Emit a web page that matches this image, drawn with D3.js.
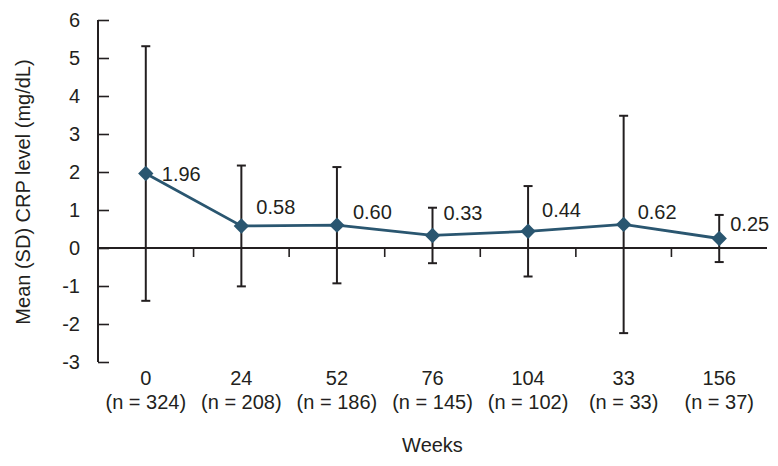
<!DOCTYPE html>
<html>
<head>
<meta charset="utf-8">
<script src="https://cdn.jsdelivr.net/npm/d3@7"></script>
<style>
  html, body { margin: 0; padding: 0; background: #fff; }
  svg { display: block; }
  text { font-family: "Liberation Sans", Arial, sans-serif; fill: #231f20; }
</style>
</head>
<body>
<svg id="chart" width="778" height="466"></svg>
<script>
const weeks = ["0", "24", "52", "76", "104", "33", "156"];
const nLabels = ["(n = 324)", "(n = 208)", "(n = 186)", "(n = 145)", "(n = 102)", "(n = 33)", "(n = 37)"];
const means = [1.96, 0.58, 0.60, 0.33, 0.44, 0.62, 0.25];
const sds = [3.35, 1.59, 1.53, 0.73, 1.19, 2.86, 0.62];
const meanLabels = ["1.96", "0.58", "0.60", "0.33", "0.44", "0.62", "0.25"];
const yTicks = [-3, -2, -1, 0, 1, 2, 3, 4, 5, 6];
// label placement offsets (pixels) relative to each marker
const labelDx = [16, 15, 16, 11, 14, 14, 11];
const labelDy = [0, -19, -13.5, -22.5, -21, -12, -14.5];

const svg = d3.select("#chart");
const mLeft = 98, mRight = 767, mTop = 20, mBottom = 362;
const ink = "#231f20";
const lineColor = "#2a5670";
const fontFam = "'Liberation Sans', Arial, sans-serif";

const x = d3.scaleBand().domain(weeks.map((w, i) => i)).range([mLeft, mRight]).padding(0);
const y = d3.scaleLinear().domain([-3, 6]).range([mBottom, mTop]);

// y axis
const yAxis = svg.append("g").attr("transform", `translate(${mLeft},0)`)
  .call(d3.axisLeft(y).tickValues(yTicks).tickSize(-11).tickPadding(18).tickFormat(d3.format("d")));
yAxis.select(".domain").attr("stroke", ink).attr("stroke-width", 2).attr("d", `M0,${y(-3)}V${y(6)}`);
yAxis.selectAll(".tick line").attr("stroke", ink).attr("stroke-width", 1.6);
yAxis.selectAll(".tick text").attr("font-size", 20).attr("fill", ink)
  .attr("font-family", fontFam)
  .text(d => d < 0 ? "-" + Math.abs(d) : d);

// x axis at y=0
const x0 = y(0);
svg.append("line").attr("x1", mLeft).attr("x2", mRight).attr("y1", x0).attr("y2", x0)
  .attr("stroke", ink).attr("stroke-width", 2);
svg.append("g").selectAll("line").data(weeks.slice(1)).join("line")
  .attr("x1", (d, i) => x(i + 1)).attr("x2", (d, i) => x(i + 1))
  .attr("y1", x0).attr("y2", x0 + 9)
  .attr("stroke", ink).attr("stroke-width", 1.6);

// category labels
const cx = i => x(i) + x.bandwidth() / 2;
svg.append("g").selectAll("text").data(weeks).join("text")
  .attr("x", (d, i) => cx(i)).attr("y", 385).attr("text-anchor", "middle")
  .attr("font-size", 20).text(d => d);
svg.append("g").selectAll("text").data(nLabels).join("text")
  .attr("x", (d, i) => cx(i)).attr("y", 409).attr("text-anchor", "middle")
  .attr("font-size", 20).text(d => d);

// axis titles
svg.append("text").attr("x", (mLeft + mRight) / 2).attr("y", 452).attr("text-anchor", "middle")
  .attr("font-size", 20).text("Weeks");
svg.append("text").attr("transform", `translate(30,192) rotate(-90)`).attr("text-anchor", "middle")
  .attr("font-size", 20).text("Mean (SD) CRP level (mg/dL)");

// error bars
const eb = svg.append("g").attr("stroke", ink).attr("stroke-width", 2);
means.forEach((m, i) => {
  const hi = y(m + sds[i]), lo = y(m - sds[i]), c = cx(i);
  eb.append("line").attr("x1", c).attr("x2", c).attr("y1", hi).attr("y2", lo);
  eb.append("line").attr("x1", c - 4.5).attr("x2", c + 4.5).attr("y1", hi).attr("y2", hi);
  eb.append("line").attr("x1", c - 4.5).attr("x2", c + 4.5).attr("y1", lo).attr("y2", lo);
});

// line
svg.append("path").datum(means)
  .attr("fill", "none").attr("stroke", lineColor).attr("stroke-width", 2.8)
  .attr("d", d3.line().x((d, i) => cx(i)).y(d => y(d)));

// markers
svg.append("g").selectAll("path").data(means).join("path")
  .attr("transform", (d, i) => `translate(${cx(i)},${y(d)})`)
  .attr("d", d3.symbol().type(d3.symbolDiamond2).size(150))
  .attr("fill", lineColor);

// value labels
svg.append("g").selectAll("text").data(meanLabels).join("text")
  .attr("x", (d, i) => cx(i) + labelDx[i])
  .attr("y", (d, i) => y(means[i]) + labelDy[i])
  .attr("dy", "0.35em")
  .attr("font-size", 20).text(d => d);
</script>
</body>
</html>
